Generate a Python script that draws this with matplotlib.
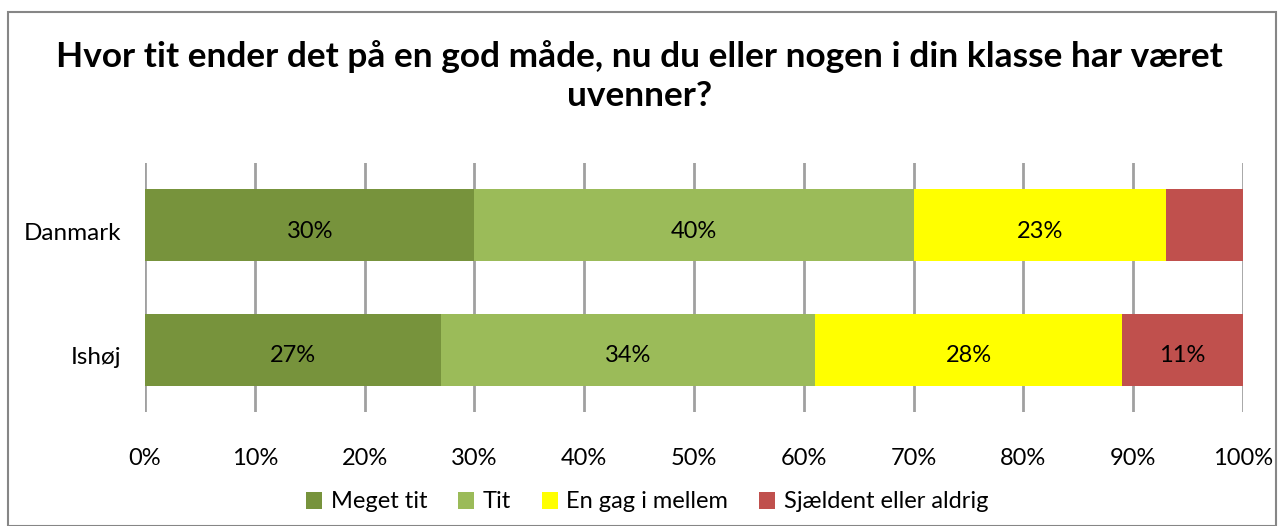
import numpy as np
import matplotlib.pyplot as plt
from matplotlib.patches import Rectangle
from matplotlib.transforms import ScaledTranslation

regions = ['Ishøj', 'Danmark']
series = ['Meget tit', 'Tit', 'En gag i mellem', 'Sjældent eller aldrig']
values = {
    'Meget tit': [27, 30],
    'Tit': [34, 40],
    'En gag i mellem': [28, 23],
    'Sjældent eller aldrig': [11, 7],
}
colors = ['#77933C', '#9BBB59', '#FFFF00', '#C0504D']
title = 'Hvor tit ender det på en god måde, nu du eller nogen i din klasse har været\nuvenner?'

plt.rcParams['font.family'] = ['Lato', 'DejaVu Sans']

fig = plt.figure(figsize=(12.79, 5.26), dpi=100)
ax = fig.add_axes([145/1279, 1-412/526, 1098/1279, 249/526])
shift = ScaledTranslation(0, -6/100, fig.dpi_scale_trans)

y = np.arange(len(regions))
left = np.zeros(len(regions))
for name, col in zip(series, colors):
    vals = np.array(values[name], dtype=float)
    ax.barh(y, vals, left=left, height=0.58, color=col, label=name, zorder=3)
    for yi, l, v in zip(y, left, vals):
        if v >= 10:
            ax.text(l + v/2, yi, f'{v:.0f}%', ha='center', va='center', fontsize=17, zorder=4,
                    transform=ax.transData + shift)
    left += vals

ax.set_xlim(0, 100)
ax.set_ylim(-0.5, 1.5)
ax.set_xticks(np.arange(0, 101, 10))
ax.set_xticklabels([f'{t}%' for t in range(0, 101, 10)], fontsize=17)
ax.set_yticks(y)
ax.set_yticklabels(regions, fontsize=17.5)
ax.tick_params(axis='both', length=0)
ax.tick_params(axis='x', pad=26)
ax.tick_params(axis='y', pad=17)
# nudge category labels down a bit, like the original
for tk in ax.yaxis.get_major_ticks():
    tk.label1.set_transform(tk.label1.get_transform() + shift)
ax.grid(axis='x', color='#A0A0A0', linewidth=2, zorder=0)
for s in ax.spines.values():
    s.set_visible(False)

fig.text(0.5, 1-76/526, title, ha='center', va='center', fontsize=25.4, fontweight='bold',
         linespacing=1.25)

fig.legend(loc='center', bbox_to_anchor=(647/1279, 1-502/526), ncol=4, frameon=False, fontsize=17,
           handlelength=0.7, handleheight=0.7, handletextpad=0.35, columnspacing=1.3)

fig.patches.append(Rectangle((8/1279, 0), 1268/1279, 1-12/526, transform=fig.transFigure,
                             fill=False, edgecolor='#868686', linewidth=1.5))

fig.savefig('out.png', dpi=100)
